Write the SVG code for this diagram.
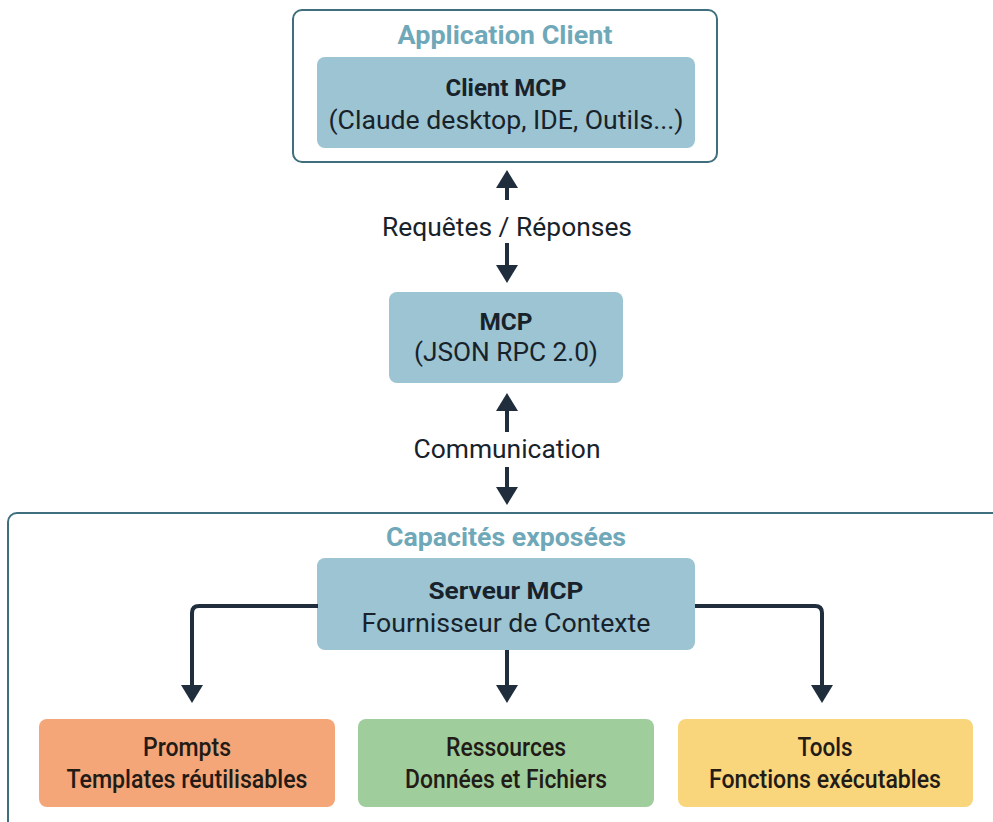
<svg xmlns="http://www.w3.org/2000/svg" width="993" height="822" viewBox="0 0 993 822">
  <style>
    .container { fill: #ffffff; stroke: #3f6f7c; stroke-width: 2; }
    .title { font-family: Roboto, "Liberation Sans", sans-serif; font-size: 26px; font-weight: 700; fill: #6fa8b8; text-anchor: middle; }
    .blue { fill: #9cc4d2; }
    .txt { font-family: Roboto, "Liberation Sans", sans-serif; font-size: 25px; fill: #18222b; text-anchor: middle; }
    .b { font-size: 24px; font-weight: 700; }
    .cap { font-family: Roboto, "Liberation Sans", sans-serif; font-size: 26px; font-weight: 500; fill: #221b16; text-anchor: middle; }
    .conn { fill: none; stroke: #1f2d3d; stroke-width: 4; }
  </style>
  <defs>
    <marker id="head" viewBox="0 0 18 22" refX="8" refY="11" markerWidth="18" markerHeight="22" markerUnits="userSpaceOnUse" orient="auto">
      <path d="M0,0 L18,11 L0,22 Z" fill="#1f2d3d"/>
    </marker>
  </defs>

  <rect width="993" height="822" fill="#ffffff"/>

  <!-- client application container -->
  <g id="application-client">
    <rect class="container" x="293" y="10" width="424" height="152" rx="9"/>
    <text class="title" x="505" y="44" textLength="215" lengthAdjust="spacingAndGlyphs">Application Client</text>
  </g>
  <g id="client-mcp">
    <rect class="blue" x="317" y="57" width="378" height="91" rx="8"/>
    <text class="txt b" x="506" y="96" textLength="121" lengthAdjust="spacingAndGlyphs">Client MCP</text>
    <text class="txt" x="506" y="129" textLength="355" lengthAdjust="spacingAndGlyphs">(Claude desktop, IDE, Outils...)</text>
  </g>

  <g id="mcp">
    <rect class="blue" x="389" y="292" width="234" height="91" rx="8"/>
    <text class="txt b" x="506" y="330" textLength="53" lengthAdjust="spacingAndGlyphs">MCP</text>
    <text class="txt" x="506" y="361" textLength="184" lengthAdjust="spacingAndGlyphs">(JSON RPC 2.0)</text>
  </g>

  <!-- exposed capabilities container, running off the canvas -->
  <g id="capacites-exposees">
    <rect class="container" x="8" y="513" width="1010" height="330" rx="9" stroke="#4f8590"/>
    <text class="title" x="506" y="546" textLength="240" lengthAdjust="spacingAndGlyphs">Capacités exposées</text>
  </g>
  <g id="serveur-mcp">
    <rect class="blue" x="317" y="558" width="378" height="92" rx="8"/>
    <text class="txt b" x="506" y="599" textLength="155" lengthAdjust="spacingAndGlyphs">Serveur MCP</text>
    <text class="txt" x="506" y="632" textLength="289" lengthAdjust="spacingAndGlyphs">Fournisseur de Contexte</text>
  </g>

  <g id="prompts">
    <rect x="39" y="719" width="296" height="88" rx="8" fill="#f4a679"/>
    <text class="cap" x="187" y="756" textLength="88" lengthAdjust="spacingAndGlyphs">Prompts</text>
    <text class="cap" x="187" y="788" textLength="241" lengthAdjust="spacingAndGlyphs">Templates réutilisables</text>
  </g>
  <g id="ressources">
    <rect x="358" y="719" width="296" height="88" rx="8" fill="#9fcd9c"/>
    <text class="cap" x="506" y="756" textLength="120" lengthAdjust="spacingAndGlyphs">Ressources</text>
    <text class="cap" x="506" y="788" textLength="202" lengthAdjust="spacingAndGlyphs">Données et Fichiers</text>
  </g>
  <g id="tools">
    <rect x="678" y="719" width="295" height="88" rx="8" fill="#f9d57c"/>
    <text class="cap" x="825" y="756" textLength="55" lengthAdjust="spacingAndGlyphs">Tools</text>
    <text class="cap" x="825" y="788" textLength="232" lengthAdjust="spacingAndGlyphs">Fonctions exécutables</text>
  </g>

  <g id="connectors">
    <path class="conn" d="M507,200 V180" marker-end="url(#head)"/>
    <path class="conn" d="M507,243 V273" marker-end="url(#head)"/>
    <text class="txt" x="507" y="236" textLength="250" lengthAdjust="spacingAndGlyphs">Requêtes / Réponses</text>
    <path class="conn" d="M507,432 V403" marker-end="url(#head)"/>
    <path class="conn" d="M507,467 V495" marker-end="url(#head)"/>
    <text class="txt" x="507" y="458" textLength="187" lengthAdjust="spacingAndGlyphs">Communication</text>
    <path class="conn" d="M318,606 H199 Q192,606 192,613 V693" marker-end="url(#head)"/>
    <path class="conn" d="M507,650 V693" marker-end="url(#head)"/>
    <path class="conn" d="M695,606 H815 Q822,606 822,613 V693" marker-end="url(#head)"/>
  </g>
</svg>
